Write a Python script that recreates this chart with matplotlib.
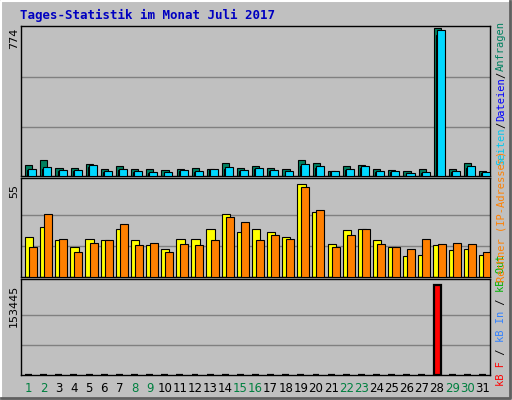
import matplotlib
matplotlib.use("Agg")
import matplotlib.pyplot as plt

days = list(range(1, 32))
weekend = [1, 2, 8, 9, 15, 16, 22, 23, 29, 30]
anfragen = [59, 85, 43, 43, 64, 38, 54, 38, 38, 33, 38, 43, 38, 69, 43, 54, 43, 38, 85, 69, 28, 54, 59, 38, 33, 28, 38, 774, 38, 69, 28]
dateien = [30, 38, 26, 26, 46, 22, 30, 22, 18, 18, 26, 22, 30, 38, 26, 34, 26, 22, 50, 42, 22, 30, 42, 22, 22, 14, 18, 740, 22, 42, 18]
seiten = [38, 48, 33, 33, 59, 28, 38, 28, 22, 22, 33, 28, 38, 48, 33, 43, 33, 28, 64, 54, 28, 38, 54, 28, 28, 17, 22, 765, 28, 54, 22]
besuche = [23.4, 29.4, 21.6, 17.5, 22.2, 21.6, 28.2, 21.6, 18.7, 16.3, 22.2, 22.2, 28.2, 37.1, 26.4, 28.2, 26.4, 23.4, 55, 38.3, 19.3, 27.6, 28.2, 21.6, 17.5, 12.7, 13.3, 18.7, 15.7, 16.3, 13.3]
rechner = [17.5, 37.1, 22.2, 14.5, 20.4, 21.6, 31.2, 18.7, 20.4, 14.5, 19.3, 18.7, 21.6, 35.3, 32.3, 21.6, 24.6, 22.2, 53.2, 39.5, 17.5, 24.6, 28.2, 19.3, 17.5, 16.3, 22.2, 19.3, 20.4, 19.3, 14.5]
kbf = [0] * 27 + [153445] + [0] * 3

BG = "#C0C0C0"
W, H = 512, 400
fig = plt.figure(figsize=(5.12, 4.0), dpi=100, facecolor=BG)

def ax_px(x0, y0, x1, y1):
    return fig.add_axes([x0 / W, 1 - y1 / H, (x1 - x0) / W, (y1 - y0) / H])

fig.add_artist(plt.Line2D([1/W, 1/W, 1-1/W], [1/H, 1-1/H, 1-1/H], color="white", lw=1.5))
fig.add_artist(plt.Line2D([1/W, 1-2/W, 1-2/W], [2/H, 2/H, 1-1/H], color="#606060", lw=2))

panels = [(26, 176), (178, 277), (279, 375)]
X0, X1 = 21, 490
axes = []
for (y0, y1) in panels:
    a = ax_px(X0, y0, X1, y1)
    a.set_facecolor(BG)
    a.set_xlim(0.5, 31.5)
    a.set_xticks([]); a.set_yticks([])
    for s in a.spines.values():
        s.set_color("black"); s.set_linewidth(1)
    axes.append(a)

a1, a2, a3 = axes
ym1 = 774 * 150 / 148.0
ym2 = 55 * 99 / 93.0
ym3 = 153445 * 96 / 90.0
a1.set_ylim(0, ym1); a2.set_ylim(0, ym2); a3.set_ylim(0, ym3)
for a, ym in ((a1, ym1 * 148 / 150), (a2, 55), (a3, 153445)):
    for f in (1/3, 2/3):
        a.axhline(ym * f, color="#808080", lw=1, zorder=0)

d = days
a1.bar([x - 0.22 for x in d], anfragen, width=0.47, align="edge", color="#008060", edgecolor="black", lw=0.8, zorder=2)
a1.bar([x - 0.08 for x in d], dateien, width=0.3, align="edge", color="#0000FF", edgecolor="black", lw=0.8, zorder=3)
a1.bar([x - 0.02 for x in d], seiten, width=0.53, align="edge", color="#00D8FF", edgecolor="black", lw=0.8, zorder=4)

a2.bar([x - 0.24 for x in d], besuche, width=0.55, align="edge", color="#FFFF00", edgecolor="black", lw=0.8, zorder=2)
a2.bar([x + 0.03 for x in d], rechner, width=0.53, align="edge", color="#FF8000", edgecolor="black", lw=0.8, zorder=3)

a3.bar(d, kbf, width=0.46, color="#FF0000", edgecolor="black", lw=1.6, zorder=2)

mono = "DejaVu Sans Mono"
fig.text(20/W, 1 - 15/H, "Tages-Statistik im Monat Juli 2017", color="#0000C0", fontsize=9, fontweight="bold", family=mono, va="center")

for lab, ypix in (("774", 28), ("55", 184), ("153445", 285)):
    fig.text(14/W, 1 - ypix/H, lab, rotation=90, fontsize=8, family="DejaVu Sans", ha="center", va="top")

for x in d:
    xf = (X0 + (x - 0.5) / 31 * (X1 - X0)) / W
    fig.text(xf, 1 - 389/H, str(x), color="#008040" if x in weekend else "black", fontsize=8.5, ha="center", va="center")

def vtext(ypix_bottom, parts, size=7.5):
    y = 1 - ypix_bottom / H
    r = fig.canvas.get_renderer()
    for txt, col in parts:
        t = fig.text(501/W, y, txt, rotation=90, color=col, fontsize=size, family=mono, ha="center", va="bottom")
        bb = t.get_window_extent(renderer=r)
        y += bb.height / H

vtext(386, [("kB F", "#FF0000"), (" / ", "black"), ("kB In", "#3080FF"), (" / ", "black"), ("kB Out", "#00B000")])
vtext(282, [("Rechner (IP-Adressen)", "#FF8000")])
vtext(165, [("Seiten", "#00C8F0"), ("/", "black"), ("Dateien", "#0000FF"), ("/", "black"), ("Anfragen", "#008060")])

fig.savefig("out.png", dpi=100, facecolor=BG)
